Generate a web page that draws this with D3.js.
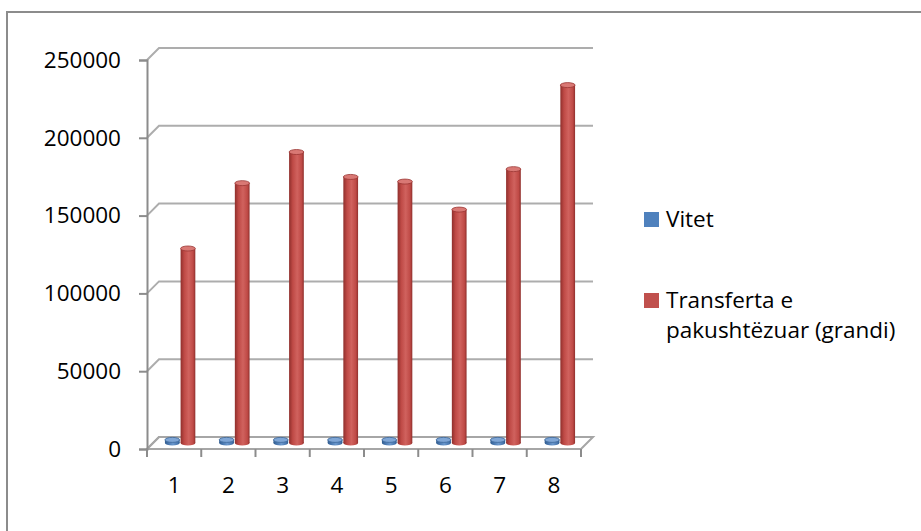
<!DOCTYPE html>
<html>
<head>
<meta charset="utf-8">
<script src="https://cdn.jsdelivr.net/npm/d3@7"></script>
<style>
  html, body { margin: 0; padding: 0; background: #fff; }
  svg { display: block; font-family: "Open Sans", Lato, sans-serif; }
</style>
</head>
<body>
<svg id="chart" width="921" height="531"></svg>
<script>
// Categories (periods 1..8) and the two series
const categories = ["1", "2", "3", "4", "5", "6", "7", "8"];
const seriesNames = ["Vitet", "Transferta e pakushtëzuar (grandi)"];
const vitet = [2006, 2007, 2008, 2009, 2010, 2011, 2012, 2013];
const grandi = [125000, 167000, 187000, 171000, 168000, 150000, 176000, 230000];
const yTicks = [0, 50000, 100000, 150000, 200000, 250000];
const seriesColors = ["#4f81bd", "#c0504d"];

const FONT = "'Open Sans', Lato, sans-serif";
const FONT_SIZE = 22.5;

const svg = d3.select("#chart");

// Frame around the chart area
svg.append("rect")
  .attr("x", 7).attr("y", 12)
  .attr("width", 940).attr("height", 540)
  .attr("fill", "none").attr("stroke", "#8c8c8c").attr("stroke-width", 2);

// Plot geometry: front plane of the 3-D box, plus depth offset toward the back wall
const left = 147, right = 581;
const depthX = 12, depthY = -12;

const y = d3.scaleLinear().domain([0, 250000]).range([449, 60]);
const x0 = d3.scaleBand().domain(categories).range([left, right])
  .paddingInner(0.44).paddingOuter(0.22);
const x1 = d3.scaleBand().domain(seriesNames).range([0, x0.bandwidth()]).paddingInner(0.06);
const xTickScale = d3.scaleBand().domain(categories).range([left, right]);

const grid = svg.append("g");
// Back-wall gridlines with the short diagonal along the side wall
yTicks.forEach(v => {
  const yf = y(v);
  grid.append("path")
    .attr("d", `M${left},${yf} L${left + depthX},${yf + depthY} L${right + depthX},${yf + depthY}`)
    .attr("fill", "none").attr("stroke", "#adadad").attr("stroke-width", 2);
});

// Floor outline
grid.append("path")
  .attr("d", `M${left},${y(0)} L${right},${y(0)} L${right + depthX},${y(0) + depthY} L${left + depthX},${y(0) + depthY} Z`)
  .attr("fill", "none").attr("stroke", "#a6a6a6").attr("stroke-width", 2);

// Vertical value axis
const yAxis = d3.axisLeft(y).tickValues(yTicks).tickSize(8).tickPadding(18)
  .tickFormat(d3.format("d"));
const yAxisG = svg.append("g").attr("transform", `translate(${left},0)`).call(yAxis);
yAxisG.select(".domain").attr("stroke", "#8c8c8c").attr("stroke-width", 2);
yAxisG.selectAll(".tick line").attr("stroke", "#8c8c8c").attr("stroke-width", 2);
yAxisG.selectAll(".tick text")
  .attr("font-size", FONT_SIZE).attr("fill", "#000").attr("font-family", FONT);

// Category axis along the front edge of the floor
const xAxis = d3.axisBottom(xTickScale).tickSize(0).tickPadding(28);
const xAxisG = svg.append("g").attr("transform", `translate(0,${y(0)})`).call(xAxis);
xAxisG.select(".domain").remove();
xAxisG.selectAll(".tick text")
  .attr("font-size", FONT_SIZE).attr("fill", "#000").attr("font-family", FONT);
const boundaries = categories.map(c => xTickScale(c)).concat([right]);
xAxisG.selectAll(".bound").data(boundaries).join("line")
  .attr("x1", d => d).attr("x2", d => d)
  .attr("y1", 0).attr("y2", 8)
  .attr("stroke", "#8c8c8c").attr("stroke-width", 2);

// Gradients that give the columns a rounded, shaded look
const defs = svg.append("defs");
function shadeGradient(id, dark, mid, light) {
  const g = defs.append("linearGradient").attr("id", id)
    .attr("x1", "0%").attr("x2", "100%").attr("y1", "0%").attr("y2", "0%");
  g.append("stop").attr("offset", "0%").attr("stop-color", dark);
  g.append("stop").attr("offset", "25%").attr("stop-color", mid);
  g.append("stop").attr("offset", "55%").attr("stop-color", light);
  g.append("stop").attr("offset", "85%").attr("stop-color", mid);
  g.append("stop").attr("offset", "100%").attr("stop-color", dark);
}
shadeGradient("gradRed", "#8f2f2c", "#bf4a46", "#d0625e");
shadeGradient("gradBlue", "#2f5b8e", "#4a78b0", "#6a97cc");

const tops = { "Vitet": "#7fa6d6", "Transferta e pakushtëzuar (grandi)": "#d97874" };
const strokes = { "Vitet": "#3b6698", "Transferta e pakushtëzuar (grandi)": "#9a3633" };
const fills = { "Vitet": "url(#gradBlue)", "Transferta e pakushtëzuar (grandi)": "url(#gradRed)" };

// Columns sit halfway back into the box
const midX = depthX / 2, midY = depthY / 2;
const rows = categories.map((c, i) => [
  { cat: c, name: seriesNames[0], value: vitet[i] },
  { cat: c, name: seriesNames[1], value: grandi[i] }
]).flat();

const bars = svg.append("g").attr("transform", `translate(${midX},${midY})`);
const bar = bars.selectAll("g.bar").data(rows).join("g").attr("class", "bar");
const bw = x1.bandwidth();
const ry = 2.5;

bar.append("rect")
  .attr("x", d => x0(d.cat) + x1(d.name))
  .attr("y", d => y(d.value))
  .attr("width", bw)
  .attr("height", d => y(0) - y(d.value))
  .attr("fill", d => fills[d.name]);
bar.append("ellipse")
  .attr("cx", d => x0(d.cat) + x1(d.name) + bw / 2)
  .attr("cy", y(0))
  .attr("rx", bw / 2).attr("ry", ry)
  .attr("fill", d => fills[d.name]);
bar.append("ellipse")
  .attr("cx", d => x0(d.cat) + x1(d.name) + bw / 2)
  .attr("cy", d => y(d.value))
  .attr("rx", bw / 2).attr("ry", ry)
  .attr("fill", d => tops[d.name])
  .attr("stroke", d => strokes[d.name]).attr("stroke-width", 0.8);

// Legend
const legend = svg.append("g");
const legendItems = [
  { name: seriesNames[0], color: seriesColors[0], lines: ["Vitet"], y: 212 },
  { name: seriesNames[1], color: seriesColors[1], lines: ["Transferta e", "pakushtëzuar (grandi)"], y: 293 }
];
legendItems.forEach(item => {
  legend.append("rect")
    .attr("x", 644).attr("y", item.y).attr("width", 15).attr("height", 15)
    .attr("fill", item.color);
  const t = legend.append("text")
    .attr("x", 666).attr("y", item.y + 15)
    .attr("font-size", FONT_SIZE).attr("font-family", FONT).attr("fill", "#000");
  item.lines.forEach((ln, k) => {
    t.append("tspan").attr("x", 666).attr("dy", k === 0 ? 0 : 29.5).text(ln);
  });
});
</script>
</body>
</html>
